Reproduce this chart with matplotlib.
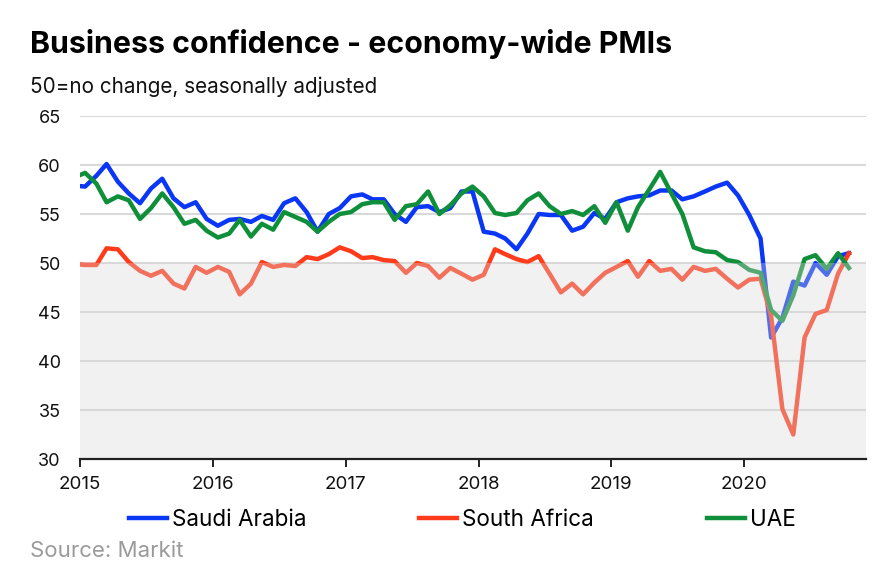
import matplotlib.pyplot as plt
import matplotlib.dates as mdates
import pandas as pd

plt.rcParams['font.family'] = ['Inter', 'DejaVu Sans']

# monthly PMI, Dec 2014 .. Oct 2020 (Dec 2014 sits just left of the axis and gets clipped)
start_month = '2014-12-01'
saudi = [57.9,
         57.8, 58.9, 60.1, 58.3, 57.1, 56.1, 57.6, 58.6, 56.6, 55.7, 56.2, 54.5,
         53.8, 54.4, 54.5, 54.2, 54.8, 54.4, 56.1, 56.6, 55.2, 53.2, 55.0, 55.6,
         56.8, 57.0, 56.5, 56.5, 55.0, 54.2, 55.7, 55.8, 55.2, 55.6, 57.3, 57.3,
         53.2, 53.0, 52.5, 51.4, 53.0, 55.0, 54.9, 54.9, 53.3, 53.7, 55.1, 54.5,
         56.2, 56.6, 56.8, 56.9, 57.4, 57.4, 56.5, 56.8, 57.3, 57.8, 58.2, 56.9,
         54.9, 52.5, 42.4, 44.4, 48.1, 47.7, 50.0, 48.8, 50.7, 51.0]
south_africa = [49.9,
                49.8, 49.8, 51.5, 51.4, 50.1, 49.2, 48.7, 49.2, 47.9, 47.4, 49.6, 49.0,
                49.6, 49.1, 46.8, 47.9, 50.1, 49.6, 49.8, 49.7, 50.6, 50.4, 50.9, 51.6,
                51.2, 50.5, 50.6, 50.3, 50.2, 49.0, 50.0, 49.7, 48.5, 49.5, 48.9, 48.3,
                48.8, 51.4, 50.9, 50.4, 50.1, 50.7, 48.9, 47.0, 47.9, 46.8, 48.0, 49.0,
                49.6, 50.2, 48.6, 50.2, 49.2, 49.4, 48.3, 49.6, 49.2, 49.4, 48.4, 47.5,
                48.3, 48.4, 44.6, 35.1, 32.5, 42.4, 44.8, 45.2, 48.9, 51.0]
uae = [58.7,
       59.2, 58.1, 56.2, 56.8, 56.4, 54.5, 55.6, 57.1, 55.7, 54.0, 54.4, 53.3,
       52.6, 53.0, 54.4, 52.7, 54.0, 53.4, 55.2, 54.7, 54.2, 53.2, 54.2, 55.0,
       55.2, 56.0, 56.2, 56.2, 54.4, 55.8, 56.0, 57.3, 55.0, 55.9, 57.1, 57.8,
       56.8, 55.1, 54.9, 55.1, 56.4, 57.1, 55.8, 55.0, 55.3, 54.9, 55.8, 54.1,
       56.2, 53.3, 55.7, 57.5, 59.3, 57.1, 55.0, 51.6, 51.2, 51.1, 50.3, 50.1,
       49.3, 49.0, 45.2, 44.1, 46.7, 50.4, 50.8, 49.4, 51.0, 49.5]
years = [2015, 2016, 2017, 2018, 2019, 2020]
y_ticks = [30, 35, 40, 45, 50, 55, 60, 65]

dates = pd.date_range(start_month, periods=len(saudi), freq='MS') + pd.Timedelta(days=14)

fig = plt.figure(figsize=(8.93, 5.76), dpi=100)
ax = fig.add_axes([0.0896, 0.2031, 0.8802, 0.5955])

ax.plot(dates, saudi, color='#0a36f5', lw=3.2, label='Saudi Arabia', zorder=2, solid_joinstyle='round')
ax.plot(dates, south_africa, color='#ff3b1c', lw=3.2, label='South Africa', zorder=2, solid_joinstyle='round')
ax.plot(dates, uae, color='#0f8f3a', lw=3.2, label='UAE', zorder=2, solid_joinstyle='round')

# shaded band below 50 drawn over the lines
ax.axhspan(30, 50, color='#d8d8d8', alpha=0.35, lw=0, zorder=3)

ax.set_ylim(30, 65)
ax.set_yticks(y_ticks)
ax.set_xlim(pd.Timestamp('2015-01-01'), pd.Timestamp('2020-12-01'))
ax.set_xticks([pd.Timestamp(f'{y}-01-01') for y in years])
ax.set_xticklabels([str(y) for y in years])

ax.grid(axis='y', color='#d9d9d9', lw=1.5, zorder=1)
ax.set_axisbelow(True)
for s in ['top', 'left', 'right']:
    ax.spines[s].set_visible(False)
ax.spines['bottom'].set_color('#222222')
ax.spines['bottom'].set_linewidth(1.6)
ax.spines['bottom'].set_zorder(4)
ax.tick_params(axis='y', length=0, pad=14, labelsize=13, labelcolor='#111111')
ax.tick_params(axis='x', length=6, width=1.4, color='#222222', pad=6, labelsize=13.5, labelcolor='#111111')

fig.text(30 / 893, 0.908, 'Business confidence - economy-wide PMIs', fontsize=21.8, fontweight='bold', color='#000000')
fig.text(30 / 893, 0.8385, '50=no change, seasonally adjusted', fontsize=14.9, color='#111111')
fig.text(30 / 893, 0.033, 'Source: Markit', fontsize=16, color='#9a9a9a')

fig.legend(loc='center left', bbox_to_anchor=(129 / 893, 0.097), ncol=3, frameon=False,
           fontsize=16.2, handlelength=1.7, handletextpad=0.22, columnspacing=5.0,
           borderpad=0, borderaxespad=0)

fig.savefig('out.png', dpi=100)
